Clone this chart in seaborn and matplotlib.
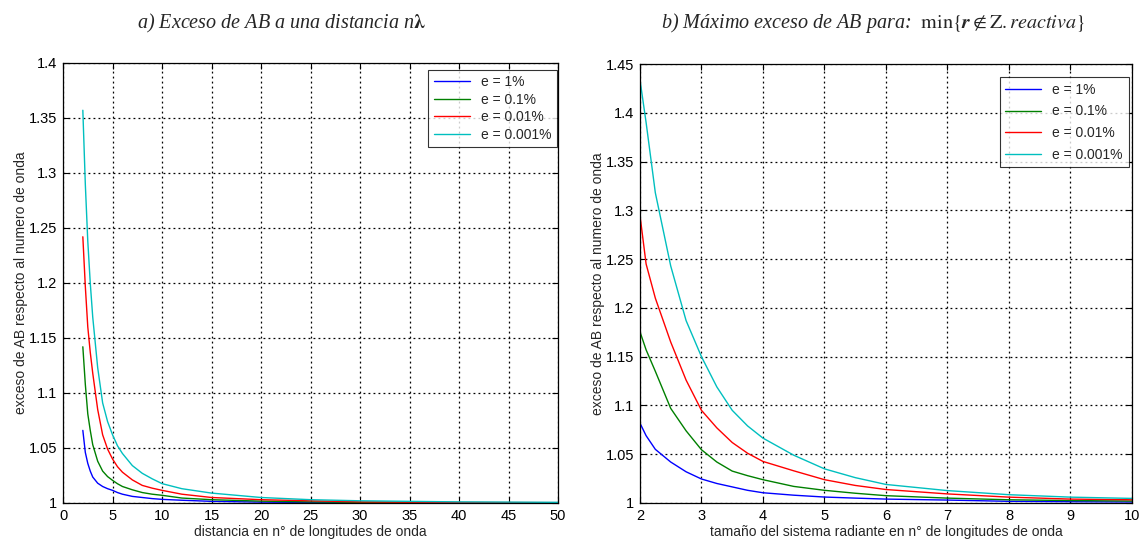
import pandas as pd
import matplotlib
matplotlib.use("Agg")
import matplotlib.pyplot as plt
import matplotlib.ticker as mticker
import seaborn as sns

# legend labels and MATLAB-like colours
labels = ['e = 1%', 'e = 0.1%', 'e = 0.01%', 'e = 0.001%']
colors = ['#0000ff', '#008000', '#ff0000', '#00bfbf']

# a) excess vs distance (n lambda)
dist_x = [2, 2.25, 2.5, 2.75, 3, 3.5, 4, 4.5, 5, 5.5, 6, 7, 8, 9, 10, 12, 15, 20, 25, 30, 40, 50]
dist_e1 = [1.066, 1.046, 1.036, 1.029, 1.0236, 1.018, 1.015, 1.013, 1.0115, 1.0095, 1.008, 1.006,
           1.005, 1.004, 1.0033, 1.0025, 1.0015, 1.0008, 1.0005, 1.0003, 1.0002, 1.0001]
dist_e01 = [1.142, 1.108, 1.081, 1.066, 1.053, 1.038, 1.029, 1.024, 1.0206, 1.0175, 1.015, 1.012,
            1.0095, 1.008, 1.007, 1.0045, 1.003, 1.0017, 1.001, 1.0006, 1.0003, 1.0002]
dist_e001 = [1.242, 1.197, 1.16, 1.137, 1.118, 1.085, 1.062, 1.049, 1.040, 1.033, 1.028, 1.021,
             1.016, 1.0135, 1.0115, 1.008, 1.005, 1.003, 1.002, 1.001, 1.0005, 1.0003]
dist_e0001 = [1.357, 1.29, 1.238, 1.20, 1.169, 1.123, 1.091, 1.074, 1.062, 1.052, 1.045, 1.034,
              1.027, 1.022, 1.0176, 1.013, 1.009, 1.005, 1.003, 1.002, 1.001, 1.0006]

# b) max excess vs size of radiating system
size_x = [2, 2.1, 2.25, 2.5, 2.75, 3, 3.25, 3.5, 3.75, 4, 4.5, 5, 5.5, 6, 7, 8, 9, 10]
size_e1 = [1.0819, 1.069, 1.055, 1.042, 1.032, 1.0246, 1.020, 1.0165, 1.013, 1.0105, 1.008,
           1.0061, 1.005, 1.004, 1.003, 1.0017, 1.0013, 1.001]
size_e01 = [1.1756, 1.157, 1.135, 1.097, 1.074, 1.0546, 1.042, 1.0327, 1.028, 1.0239, 1.017,
            1.013, 1.01, 1.0075, 1.005, 1.0033, 1.0025, 1.002]
size_e001 = [1.295, 1.245, 1.21, 1.165, 1.126, 1.095, 1.077, 1.062, 1.051, 1.0426, 1.033,
             1.0239, 1.018, 1.0138, 1.0093, 1.006, 1.004, 1.0033]
size_e0001 = [1.434, 1.39, 1.318, 1.243, 1.187, 1.150, 1.119, 1.095, 1.079, 1.0665, 1.049,
              1.035, 1.026, 1.019, 1.0127, 1.0085, 1.006, 1.0047]


def long_df(x, series):
    rows = []
    for lab, ys in zip(labels, series):
        for xv, yv in zip(x, ys):
            rows.append({'x': xv, 'y': yv, 'serie': lab})
    return pd.DataFrame(rows)


df_a = long_df(dist_x, [dist_e1, dist_e01, dist_e001, dist_e0001])
df_b = long_df(size_x, [size_e1, size_e01, size_e001, size_e0001])

sns.set_theme(style="white")
plt.rcParams['font.family'] = ['Liberation Sans', 'DejaVu Sans']
plt.rcParams['mathtext.fontset'] = 'stix'

fig = plt.figure(figsize=(11.44, 5.49), dpi=100)
ax1 = fig.add_axes([0.0551, 0.0838, 0.4327, 0.8015])
ax2 = fig.add_axes([0.5594, 0.0838, 0.4301, 0.7996])


def style_axes(ax, xlim, xticks, ylim, yticks, xlabel):
    ax.set_xlim(*xlim)
    ax.set_ylim(*ylim)
    ax.set_xticks(xticks)
    ax.set_yticks(yticks)
    ax.yaxis.set_major_formatter(mticker.FormatStrFormatter('%g'))
    ax.xaxis.set_major_formatter(mticker.FormatStrFormatter('%g'))
    ax.grid(True, color='black', linestyle=(0, (1.5, 2.5)), linewidth=0.9)
    ax.tick_params(direction='in', length=4, width=0.8, labelsize=10.5, colors='black',
                   top=True, right=True, bottom=True, left=True, pad=4)
    for s in ax.spines.values():
        s.set_color('black')
        s.set_linewidth(0.9)
    ax.set_xlabel(xlabel, fontsize=10, labelpad=2)
    ax.set_ylabel('exceso de AB respecto al numero de onda', fontsize=10, labelpad=1)


for ax, df in [(ax1, df_a), (ax2, df_b)]:
    sns.lineplot(data=df, x='x', y='y', hue='serie', palette=colors, ax=ax,
                 linewidth=1.0, sort=True, estimator=None)

style_axes(ax1, (0, 50), range(0, 51, 5), (1, 1.4),
           [1 + 0.05 * i for i in range(9)], 'distancia en n° de longitudes de onda')
style_axes(ax2, (2, 10), range(2, 11), (1, 1.45),
           [1 + 0.05 * i for i in range(10)],
           'tamaño del sistema radiante en n° de longitudes de onda')

for ax, anchor, spacing in [(ax1, (0.998, 0.985), 0.25), (ax2, (0.993, 0.97), 0.55)]:
    leg = ax.legend(loc='upper right', bbox_to_anchor=anchor, fontsize=10, frameon=True,
                    fancybox=False, handlelength=2.6, borderpad=0.4, labelspacing=spacing,
                    handletextpad=0.8, borderaxespad=0)
    leg.get_frame().set_edgecolor('black')
    leg.get_frame().set_linewidth(0.8)

title_font = dict(family=['Liberation Serif', 'DejaVu Serif'], style='italic', fontsize=14.5)
fig.text(0.2465, 0.958, r'a) Exceso de AB a una distancia n$\boldsymbol{\lambda}$',
         ha='center', va='center', **title_font)
fig.text(0.763, 0.958,
         r'b) Máximo exceso de AB para:  $\mathrm{min}\{\boldsymbol{r}\notin\mathrm{Z}.\mathit{reactiva}\}$',
         ha='center', va='center', **title_font)

fig.savefig('out.png', dpi=100)
